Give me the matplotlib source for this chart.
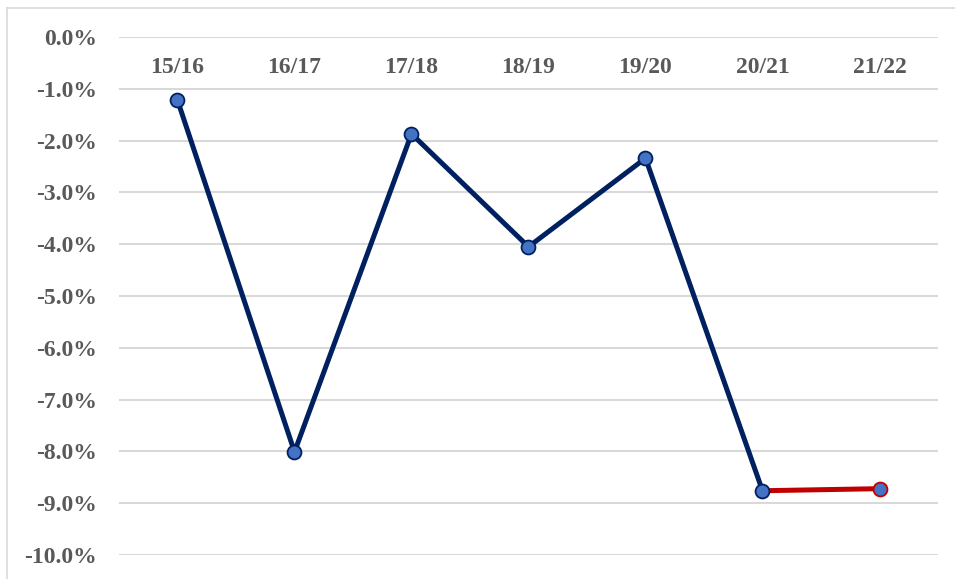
import matplotlib.pyplot as plt
from matplotlib.lines import Line2D

# 시즌별 변화율 (%)
seasons = ['15/16', '16/17', '17/18', '18/19', '19/20', '20/21', '21/22']
change_pct = [-1.22, -8.01, -1.87, -4.05, -2.34, -8.76, -8.72]
y_ticks = [0, -1, -2, -3, -4, -5, -6, -7, -8, -9, -10]

navy = '#002060'
red = '#C00000'
face = '#4472C4'
txt = '#595959'

plt.rcParams['font.family'] = ['Liberation Serif', 'DejaVu Serif']

fig = plt.figure(figsize=(9.55, 5.79), dpi=100)
ax = fig.add_axes([0.1246, 0.0415, 0.8576, 0.8946])

x = list(range(len(seasons)))

# 파란 구간 + 마지막 빨간 구간
ax.plot(x[:-1], change_pct[:-1], color=navy, lw=3.6, zorder=3, clip_on=False,
        solid_capstyle='round')
ax.plot(x[-2:], change_pct[-2:], color=red, lw=3.6, zorder=3, clip_on=False)
ax.plot(x[:-1], change_pct[:-1], ls='none', marker='o', ms=10, mfc=face,
        mec=navy, mew=1.3, zorder=4, clip_on=False)
ax.plot(x[-1:], change_pct[-1:], ls='none', marker='o', ms=10, mfc=face,
        mec=red, mew=1.3, zorder=4, clip_on=False)

ax.set_xlim(-0.5, len(seasons) - 0.5)
ax.set_ylim(-10, 0)
ax.set_yticks(y_ticks)
ax.set_yticklabels([f'{v:.1f}%' for v in y_ticks], fontsize=17,
                   fontweight='bold', color=txt)
ax.tick_params(axis='y', length=0, pad=16)
ax.set_xticks([])
ax.grid(axis='y', color='#D9D9D9', lw=1.5)
ax.set_axisbelow(True)
for s in ax.spines.values():
    s.set_visible(False)

# 카테고리 라벨 (0% 선 아래)
for i, lab in enumerate(seasons):
    ax.text(i, -0.70, lab, ha='center', va='baseline', fontsize=17,
            fontweight='bold', color=txt)

# 차트 테두리
fig.add_artist(Line2D([7 / 955, 1], [1 - 8 / 579, 1 - 8 / 579],
                      color='#D9D9D9', lw=1.2))
fig.add_artist(Line2D([7 / 955, 7 / 955], [0, 1 - 8 / 579],
                      color='#D9D9D9', lw=1.2))

fig.savefig('out.png', dpi=100)
